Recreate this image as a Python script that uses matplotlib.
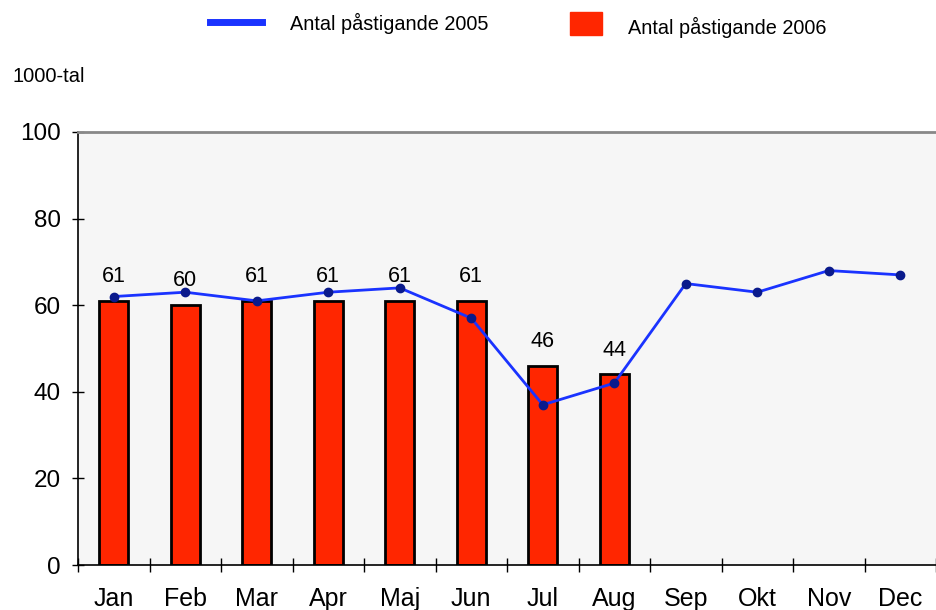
import matplotlib.pyplot as plt
from matplotlib.lines import Line2D
from matplotlib.patches import Rectangle

months = ['Jan', 'Feb', 'Mar', 'Apr', 'Maj', 'Jun', 'Jul', 'Aug', 'Sep', 'Okt', 'Nov', 'Dec']
pass_2005 = [62, 63, 61, 63, 64, 57, 37, 42, 65, 63, 68, 67]
pass_2006 = [61, 60, 61, 61, 61, 61, 46, 44]

plt.rcParams['font.family'] = ['Liberation Sans', 'DejaVu Sans']

fig = plt.figure(figsize=(9.36, 6.10), dpi=100)
ax = fig.add_axes([78 / 936, 45 / 610, 858 / 936, 433 / 610])
ax.set_facecolor('#f6f6f6')

x = list(range(len(months)))
ax.bar(x[:len(pass_2006)], pass_2006, width=0.4, color='#ff2600',
       edgecolor='black', linewidth=2, zorder=2)
for xi, v in zip(x, pass_2006):
    ax.annotate(str(v), (xi, v), xytext=(0, 10), textcoords='offset points',
                ha='center', va='bottom', fontsize=15.5, zorder=4)

ax.plot(x, pass_2005, color='#1a33ff', linewidth=2, marker='o', markersize=6,
        markerfacecolor='#0a1a8c', markeredgecolor='#0a1a8c', zorder=3)

ax.set_xlim(-0.5, 11.5)
ax.set_ylim(0, 100)
ax.set_yticks([0, 20, 40, 60, 80, 100])
ax.set_xticks([i + 0.5 for i in range(-1, 12)], minor=False)
ax.set_xticklabels([])
ax.set_xticks(x, minor=True)
ax.set_xticklabels(months, minor=True, fontsize=18)
ax.tick_params(axis='x', which='minor', length=0, pad=16)
ax.tick_params(axis='x', which='major', direction='inout', length=10, width=1)
ax.tick_params(axis='y', direction='inout', length=9, width=1, labelsize=17.5, pad=8)

for s in ['left', 'bottom']:
    ax.spines[s].set_color('black')
    ax.spines[s].set_linewidth(1.2)
ax.spines['top'].set_color('#888888')
ax.spines['top'].set_linewidth(2)
ax.spines['right'].set_visible(False)

# legend drawn at figure level
fig.add_artist(Line2D([210 / 936, 262 / 936], [1 - 22 / 610, 1 - 22 / 610],
                      color='#1a33ff', linewidth=5, transform=fig.transFigure))
fig.text(290 / 936, 1 - 23 / 610, 'Antal påstigande 2005',
         fontsize=14.3, va='center', ha='left')
fig.add_artist(Rectangle((570 / 936, 1 - 35 / 610), 32 / 936, 23 / 610,
                         color='#ff2600', transform=fig.transFigure))
fig.text(628 / 936, 1 - 27 / 610, 'Antal påstigande 2006',
         fontsize=14.3, va='center', ha='left')

fig.text(12 / 936, 1 - 76 / 610, '1000-tal', fontsize=14.5,
         va='center', ha='left')

plt.savefig('out.png', dpi=100)
